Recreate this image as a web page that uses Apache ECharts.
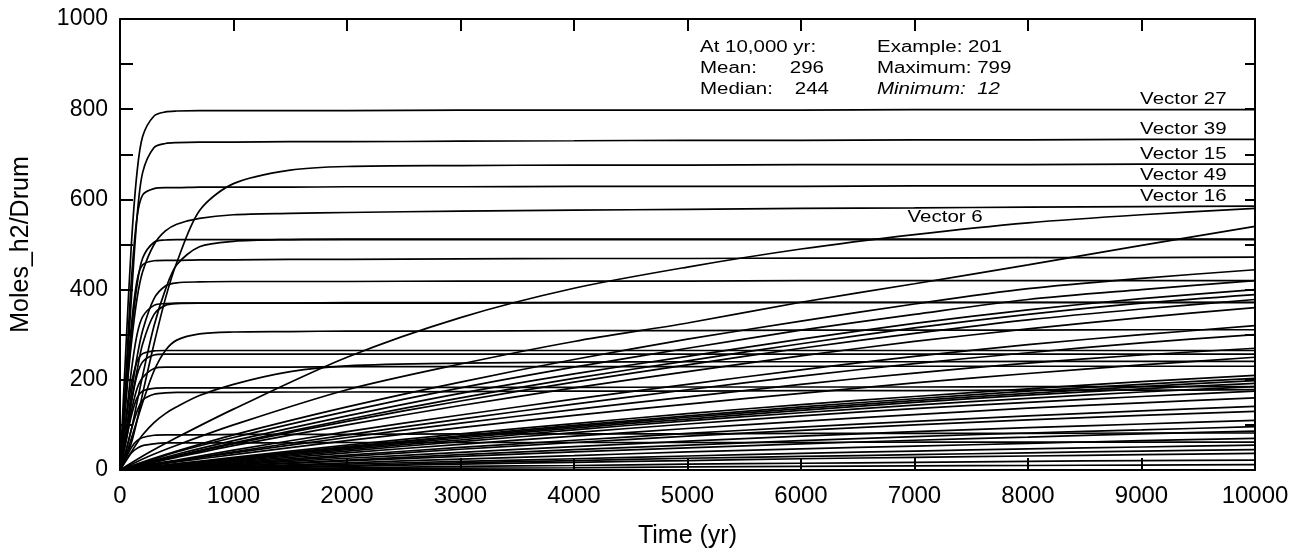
<!DOCTYPE html>
<html>
<head>
<meta charset="utf-8">
<script src="https://cdn.jsdelivr.net/npm/echarts@6/dist/echarts.min.js"></script>
<style>
html,body{margin:0;padding:0;background:#fff;}
#c{width:1308px;height:556px;}
</style>
</head>
<body>
<div id="c"></div>
<script>
// ---- time grids ----
const TF = [0, 50, 100, 150, 200, 300, 400, 500, 700, 1000, 1500, 2000, 3000, 4000, 5000, 6000, 7000, 8000, 9000, 10000];
const TS = [0, 250, 500, 1000, 2000, 3000, 4000, 5000, 6000, 7000, 8000, 9000, 10000];

// ---- fast-saturating vectors (values on TF) ----
const v27   = [0, 260, 500, 660, 740, 785, 794, 796, 797, 797, 797, 797, 798, 798, 798, 798, 799, 799, 799, 799];
const v39   = [0, 180, 380, 560, 660, 715, 724, 726, 727, 727, 728, 728, 729, 730, 731, 731, 732, 732, 733, 733];
const v49   = [0, 200, 420, 560, 610, 624, 626, 626, 627, 627, 627, 628, 628, 629, 629, 629, 630, 630, 630, 630];
const v15   = [0, 30, 60, 110, 170, 280, 380, 460, 575, 635, 665, 673, 675, 676, 676, 677, 677, 677, 678, 678];
const v16   = [0, 150, 280, 380, 440, 500, 530, 545, 558, 566, 569, 571, 574, 576, 578, 580, 581, 583, 584, 585];
const f511a = [0, 150, 300, 410, 470, 505, 510, 511, 511, 511, 511, 511, 511, 511, 511, 511, 511, 511, 511, 511];
const f511b = [0, 40, 90, 150, 210, 320, 400, 455, 495, 507, 511, 512, 512, 512, 512, 512, 512, 512, 512, 512];
const f470  = [0, 160, 320, 420, 455, 464, 465, 465, 466, 466, 467, 467, 468, 469, 469, 470, 470, 471, 471, 472];
const f420  = [0, 80, 170, 250, 310, 380, 408, 415, 417, 418, 418, 418, 419, 419, 419, 420, 420, 420, 420, 420];
const f372a = [0, 70, 150, 220, 280, 345, 365, 369, 370, 370, 370, 371, 371, 371, 371, 372, 372, 372, 372, 372];
const f372b = [0, 110, 220, 300, 340, 365, 369, 370, 370, 370, 370, 370, 370, 371, 371, 371, 371, 371, 371, 371];
const f310  = [0, 30, 70, 110, 150, 220, 265, 288, 302, 306, 307, 308, 308, 309, 309, 310, 310, 310, 311, 311];
const f265  = [0, 100, 190, 240, 258, 264, 265, 265, 265, 265, 265, 265, 265, 265, 265, 265, 265, 265, 265, 265];
const f257  = [0, 70, 150, 210, 240, 255, 257, 257, 257, 257, 257, 257, 257, 257, 257, 257, 257, 257, 257, 257];
const f241  = [0, 20, 40, 60, 78, 105, 125, 140, 165, 190, 218, 231, 237, 239, 240, 240, 240, 241, 241, 241];
const f230  = [0, 60, 130, 180, 205, 225, 228, 228, 228, 228, 228, 229, 229, 229, 229, 230, 230, 230, 230, 230];
const f185  = [0, 60, 120, 160, 175, 181, 182, 182, 182, 182, 182, 183, 183, 183, 184, 184, 184, 185, 185, 185];
const f178  = [0, 40, 90, 130, 155, 168, 171, 172, 172, 172, 173, 173, 174, 175, 175, 176, 176, 177, 177, 178];
const f82   = [0, 25, 50, 65, 72, 77, 78, 78, 78, 79, 79, 79, 80, 80, 80, 81, 81, 81, 82, 82];
const f62   = [0, 20, 38, 48, 54, 58, 60, 60, 60, 60, 60, 61, 61, 61, 61, 61, 62, 62, 62, 62];

// ---- slowly rising vectors (values on TS) ----
const v6   = [0, 38, 72, 135, 250, 338, 403, 450, 490, 522, 548, 566, 580];
const s540 = [0, 30, 55, 100, 178, 235, 285, 326, 372, 413, 455, 498, 540];
const s444 = [0, 22, 42, 78, 140, 195, 245, 290, 330, 368, 402, 425, 444];
const s420 = [0, 20, 40, 72, 130, 182, 228, 270, 310, 345, 378, 400, 420];
const s400 = [0, 18, 35, 65, 120, 170, 213, 252, 290, 325, 355, 380, 400];
const s389 = [0, 16, 32, 60, 112, 160, 203, 242, 280, 315, 345, 370, 389];
const s378 = [0, 15, 30, 58, 108, 153, 195, 233, 270, 303, 333, 357, 378];
const s360 = [0, 14, 28, 54, 100, 143, 182, 218, 253, 285, 313, 338, 360];
const s320 = [0, 12, 22, 44, 85, 122, 157, 190, 222, 252, 278, 300, 320];
const s300 = [0, 10, 20, 40, 78, 113, 146, 178, 208, 236, 260, 282, 300];
const s270 = [0, 10, 20, 38, 72, 104, 134, 162, 190, 215, 237, 255, 270];
const s250 = [0, 9, 18, 34, 65, 94, 121, 146, 170, 193, 214, 233, 250];
const s210 = [0, 7, 14, 28, 55, 80, 103, 125, 145, 163, 180, 196, 210];
const s203 = [0, 7, 13, 26, 52, 76, 99, 120, 140, 158, 175, 190, 203];
const s198 = [0, 6, 12, 25, 50, 74, 96, 117, 136, 154, 170, 185, 198];
const s192 = [0, 6, 12, 24, 48, 71, 93, 113, 132, 150, 166, 180, 192];
const s185 = [0, 5, 11, 22, 45, 67, 89, 109, 127, 144, 159, 173, 185];
const s175 = [0, 5, 10, 20, 42, 63, 83, 102, 120, 136, 150, 163, 175];
const s160 = [0, 4, 9, 18, 38, 57, 75, 92, 108, 123, 137, 149, 160];
const s141 = [0, 4, 8, 16, 33, 50, 66, 81, 95, 108, 120, 131, 141];
const s130 = [0, 3, 7, 14, 30, 46, 61, 75, 88, 100, 111, 121, 130];
const s110 = [0, 3, 6, 12, 26, 39, 52, 64, 75, 85, 94, 102, 110];
const s96  = [0, 2, 5, 10, 22, 34, 45, 55, 65, 74, 82, 89, 96];
const s86  = [0, 2, 4, 9, 20, 30, 40, 49, 58, 66, 73, 80, 86];
const s70  = [0, 2, 3, 7, 16, 24, 32, 40, 47, 53, 59, 65, 70];
const s55  = [0, 1, 3, 6, 13, 19, 25, 31, 37, 42, 47, 51, 55];
const s45  = [0, 1, 2, 5, 10, 16, 21, 26, 30, 34, 38, 42, 45];
const s37  = [0, 1, 2, 4, 8, 13, 17, 21, 25, 28, 31, 34, 37];
const s22  = [0, 0, 1, 2, 5, 8, 10, 13, 15, 17, 19, 21, 22];
const s12  = [0, 0, 1, 1, 3, 4, 5, 7, 8, 9, 10, 11, 12];

// ---- text ----
const xTicks = [0, 1000, 2000, 3000, 4000, 5000, 6000, 7000, 8000, 9000, 10000];
const yTicks = [0, 200, 400, 600, 800, 1000];
const statsLeft  = [['At 10,000 yr:', ''], ['Mean:', '296'], ['Median:', '244']];
const statsRight = ['Example: 201', 'Maximum: 799', 'Minimum:  12'];

const fast = [
  ['Vector 27', v27], ['Vector 39', v39], ['Vector 49', v49], ['Vector 15', v15], ['Vector 16', v16],
  ['f511a', f511a], ['f511b', f511b], ['f470', f470], ['f420', f420], ['f372a', f372a], ['f372b', f372b],
  ['f310', f310], ['f265', f265], ['f257', f257], ['f241', f241], ['f230', f230], ['f185', f185],
  ['f178', f178], ['f82', f82], ['f62', f62]
];
const slow = [
  ['Vector 6', v6], ['s540', s540], ['s444', s444], ['s420', s420], ['s400', s400], ['s389', s389],
  ['s378', s378], ['s360', s360], ['s320', s320], ['s300', s300], ['s270', s270], ['s250', s250],
  ['s210', s210], ['s203', s203], ['s198', s198], ['s192', s192], ['s185', s185], ['s175', s175],
  ['s160', s160], ['s141', s141], ['s130', s130], ['s110', s110], ['s96', s96], ['s86', s86],
  ['s70', s70], ['s55', s55], ['s45', s45], ['s37', s37], ['s22', s22], ['s12', s12]
];

const lineStyle = {color: '#000', width: 1.7};
const series = [];
fast.forEach(([name, vals]) => series.push({
  name, type: 'line', data: TF.map((t, i) => [t, vals[i]]), showSymbol: false,
  smooth: 0.3, lineStyle, silent: true
}));
slow.forEach(([name, vals]) => series.push({
  name, type: 'line', data: TS.map((t, i) => [t, vals[i]]), showSymbol: false,
  smooth: 0.3, lineStyle, silent: true
}));

const FONT = '"Liberation Sans", Arial, Helvetica, sans-serif';
const axisLine = {show: true, onZero: false, lineStyle: {color: '#000', width: 2}};

const chart = echarts.init(document.getElementById('c'), null, {renderer: 'canvas'});
chart.setOption({
  animation: false,
  backgroundColor: '#fff',
  grid: {left: 120, right: 53, top: 19, bottom: 86, containLabel: false},
  xAxis: [{
    type: 'value', min: 0, max: 10000, interval: 1000, position: 'bottom',
    axisLine, splitLine: {show: false},
    axisTick: {show: true, inside: true, length: 12, lineStyle: {color: '#000', width: 2}},
    axisLabel: {color: '#000', fontSize: 24, fontFamily: FONT, margin: 14,
      formatter: v => xTicks.includes(v) ? String(v) : ''},
    name: 'Time (yr)', nameLocation: 'middle', nameGap: 54,
    nameTextStyle: {color: '#000', fontSize: 25, fontFamily: FONT}
  }, {
    type: 'value', min: 0, max: 10000, interval: 1000, position: 'top',
    axisLine, splitLine: {show: false},
    axisTick: {show: true, inside: true, length: 12, lineStyle: {color: '#000', width: 2}},
    axisLabel: {show: false}
  }],
  yAxis: [{
    type: 'value', min: 0, max: 1000, interval: 100, position: 'left',
    axisLine, splitLine: {show: false},
    axisTick: {show: true, inside: true, length: 13, lineStyle: {color: '#000', width: 2}},
    axisLabel: {color: '#000', fontSize: 23, fontFamily: FONT, margin: 12,
      formatter: v => yTicks.includes(v) ? String(v) : ''},
    name: 'Moles_h2/Drum', nameLocation: 'middle', nameGap: 86, nameRotate: 90,
    nameTextStyle: {color: '#000', fontSize: 25, fontFamily: FONT}
  }, {
    type: 'value', min: 0, max: 1000, interval: 100, position: 'right',
    axisLine, splitLine: {show: false},
    axisTick: {show: true, inside: true, length: 10, lineStyle: {color: '#000', width: 2}},
    axisLabel: {show: false}
  }],
  series
});

// ---- annotations ----
const SX = 1.28;
const txt = (text, x, y, align, extra) => Object.assign({
  type: 'text', x, y, scaleX: SX, silent: true, z: 10,
  style: {text, fill: '#000', font: '16px ' + FONT, align, verticalAlign: 'middle'}
}, extra || {});

const graphics = [];
const labelled = [['Vector 27', v27], ['Vector 39', v39], ['Vector 15', v15], ['Vector 49', v49], ['Vector 16', v16]];
labelled.forEach(([name, vals]) => {
  const p = chart.convertToPixel({gridIndex: 0}, [9750, vals[vals.length - 1]]);
  graphics.push(txt(name, p[0], p[1] - 10, 'right'));
});
{
  const p = chart.convertToPixel({gridIndex: 0}, [7270, 529]);
  graphics.push(txt('Vector 6', p[0], p[1] - 14, 'center'));
}
const rowY = [48, 69, 90];
statsLeft.forEach(([a, b], i) => {
  graphics.push(txt(a, 700, rowY[i], 'left'));
  if (b) graphics.push(txt(b, i === 1 ? 824 : 829, rowY[i], 'right'));
});
statsRight.forEach((s, i) => {
  const g = txt(s, 877, rowY[i], 'left');
  if (i === 2) g.style.font = 'italic 16px ' + FONT;
  graphics.push(g);
});
chart.setOption({graphic: graphics});
</script>
</body>
</html>
